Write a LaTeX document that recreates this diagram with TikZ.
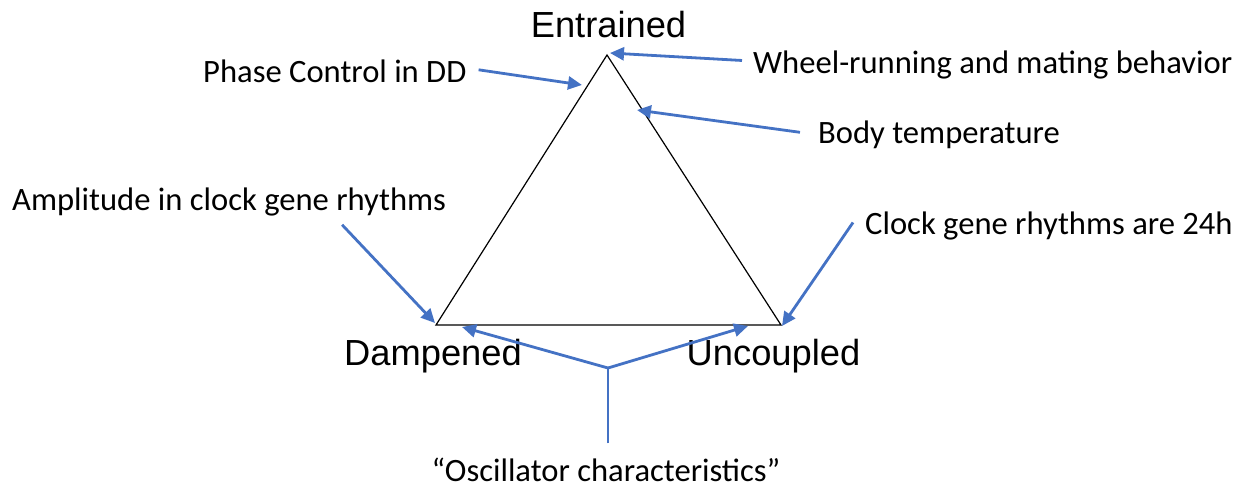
\documentclass[tikz,border=0pt]{standalone}
\usepackage{fontspec}
\setmainfont{Carlito}
\newfontfamily\arialfont{Liberation Sans}
\usetikzlibrary{positioning, arrows.meta}

\begin{document}
\begin{tikzpicture}[
    x=1pt, y=-1pt,
    state/.style={inner sep=0pt, anchor=base, font=\arialfont\fontsize{36.3}{42}\selectfont},
    note/.style={inner sep=0pt, anchor=base west, font=\fontsize{32.6}{38}\selectfont},
    edge/.style={black, line width=1.2pt, line join=miter},
    callout/.style={line width=2.8pt, color=callblue},
    arrow/.style={callout, -{Triangle[length=14pt, width=13pt]}}
]
    \definecolor{callblue}{RGB}{68,114,196}
    \useasboundingbox (0,0) rectangle (1242,488);

    % triangle corners
    \coordinate (ent) at (607,55);
    \coordinate (dam) at (436,325);
    \coordinate (unc) at (781,325);
    \draw[edge] (ent) -- (dam) -- (unc) -- cycle;

    \node[state] (lent) at (608.5,37) {Entrained};
    \node[state] (ldam) at (433,365) {Dampened};
    \node[state] (lunc) at (773.5,365) {Uncoupled};

    \node[note] (phase) at (203,82) {Phase Control in DD};
    \node[note] (wheel) at (753,73) {Wheel-running and mating behavior};
    \node[note] (body)  at (818,143) {Body temperature};
    \node[note] (ampl)  at (12,210) {Amplitude in clock gene rhythms};
    \node[note] (clock) at (865,234) {Clock gene rhythms are 24h};
    \node[note, anchor=base] (osc) at (606,481) {``Oscillator characteristics''};

    % arrow tips
    \coordinate (phasetip) at (582,85);
    \coordinate (wheeltip) at (610,53);
    \coordinate (bodytip)  at (637,110);
    \coordinate (ampltip)  at (435,323);
    \coordinate (clocktip) at (782,326);
    \coordinate (split)    at (608,368);
    \coordinate (damtip)   at (462,327);
    \coordinate (unctip)   at (748,326);

    \draw[arrow] ([xshift=12pt,yshift=1pt]phase.east) -- (phasetip);
    \draw[arrow] ([xshift=-11pt,yshift=4pt]wheel.west) -- (wheeltip);
    \draw[arrow] ([xshift=-18pt,yshift=2pt]body.west) -- (bodytip);
    \draw[arrow] ([xshift=113pt,yshift=-9pt]ampl.south) -- (ampltip);
    \draw[arrow] ([xshift=-12pt,yshift=3pt]clock.west) -- (clocktip);

    \draw[callout] ([xshift=2pt,yshift=14pt]osc.north) -- (split);
    \draw[arrow] (split) -- (damtip);
    \draw[arrow] (split) -- (unctip);

\end{tikzpicture}
\end{document}
